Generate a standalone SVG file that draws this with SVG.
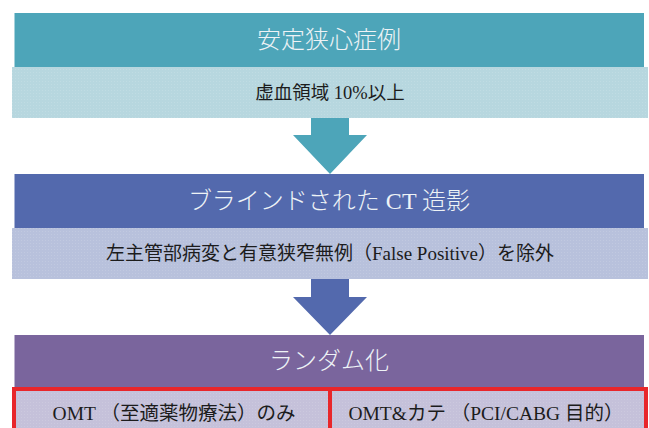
<svg xmlns="http://www.w3.org/2000/svg" width="649" height="428" viewBox="0 0 649 428">
<style>
.title{font-family:"Liberation Serif","Noto Sans CJK JP",serif;font-size:24px;fill:#eef3f6;text-anchor:middle;dominant-baseline:central;font-weight:300}
.sub{font-family:"Liberation Serif","Noto Sans CJK JP",serif;font-size:18.5px;fill:#1c1c1c;text-anchor:middle;dominant-baseline:central}
.arm{font-family:"Liberation Serif","Noto Sans CJK JP",serif;font-size:19.5px;fill:#1c1c1c;text-anchor:middle;dominant-baseline:central}
.red{fill:none;stroke:#e8262b;stroke-width:4}
</style>
<defs>
<pattern id="dots" width="3" height="3" patternUnits="userSpaceOnUse">
<rect x="0" y="0" width="1" height="1" fill="#ffffff" fill-opacity="0.12"/>
</pattern>
</defs>
<rect width="649" height="428" fill="#ffffff"/>
<g id="node-stable-angina">
<rect x="14.5" y="13" width="629.5" height="54" fill="#4da5b9"/>
<text class="title" x="329" y="40">安定狭心症例</text>
</g>
<g id="node-ischemia">
<rect x="12" y="67" width="636" height="51" fill="#b7d7df"/>
<rect x="12" y="67" width="636" height="51" fill="url(#dots)"/>
<text class="sub" x="330" y="93">虚血領域 10%以上</text>
</g>
<g id="node-ct">
<rect x="14.5" y="174" width="629.5" height="54" fill="#5369ad"/>
<text class="title" x="329" y="201">ブラインドされた CT 造影</text>
</g>
<g id="node-exclude">
<rect x="12" y="228" width="636" height="51" fill="#b8c1dc"/>
<rect x="12" y="228" width="636" height="51" fill="url(#dots)"/>
<text class="sub" x="330" y="253.5" style="font-size:19px">左主管部病変と有意狭窄無例（False Positive）を除外</text>
</g>
<g id="node-random">
<rect x="14.5" y="335" width="629.5" height="52" fill="#7a659d"/>
<text class="title" x="329" y="361">ランダム化</text>
</g>
<g id="node-omt">
<rect x="12" y="387" width="318" height="45" fill="#c5c1da"/>
<rect x="12" y="387" width="318" height="45" fill="url(#dots)"/>
<path class="red" d="M14 432 V389 H330 V432"/>
<text class="arm" x="174" y="413">OMT （至適薬物療法）のみ</text>
</g>
<g id="node-omt-cath">
<rect x="330" y="387" width="318" height="45" fill="#c5c1da"/>
<rect x="330" y="387" width="318" height="45" fill="url(#dots)"/>
<path class="red" d="M330 432 V389 H646 V432"/>
<text class="arm" x="486" y="413">OMT&amp;カテ （PCI/CABG 目的）</text>
</g>
<g id="connectors">
<polygon points="311,118 349,118 349,135 367,135 330,174 293,135 311,135" fill="#4da5b9"/>
<polygon points="311,279 349,279 349,297 367,297 330,335 293,297 311,297" fill="#5369ad"/>
</g>
</svg>
